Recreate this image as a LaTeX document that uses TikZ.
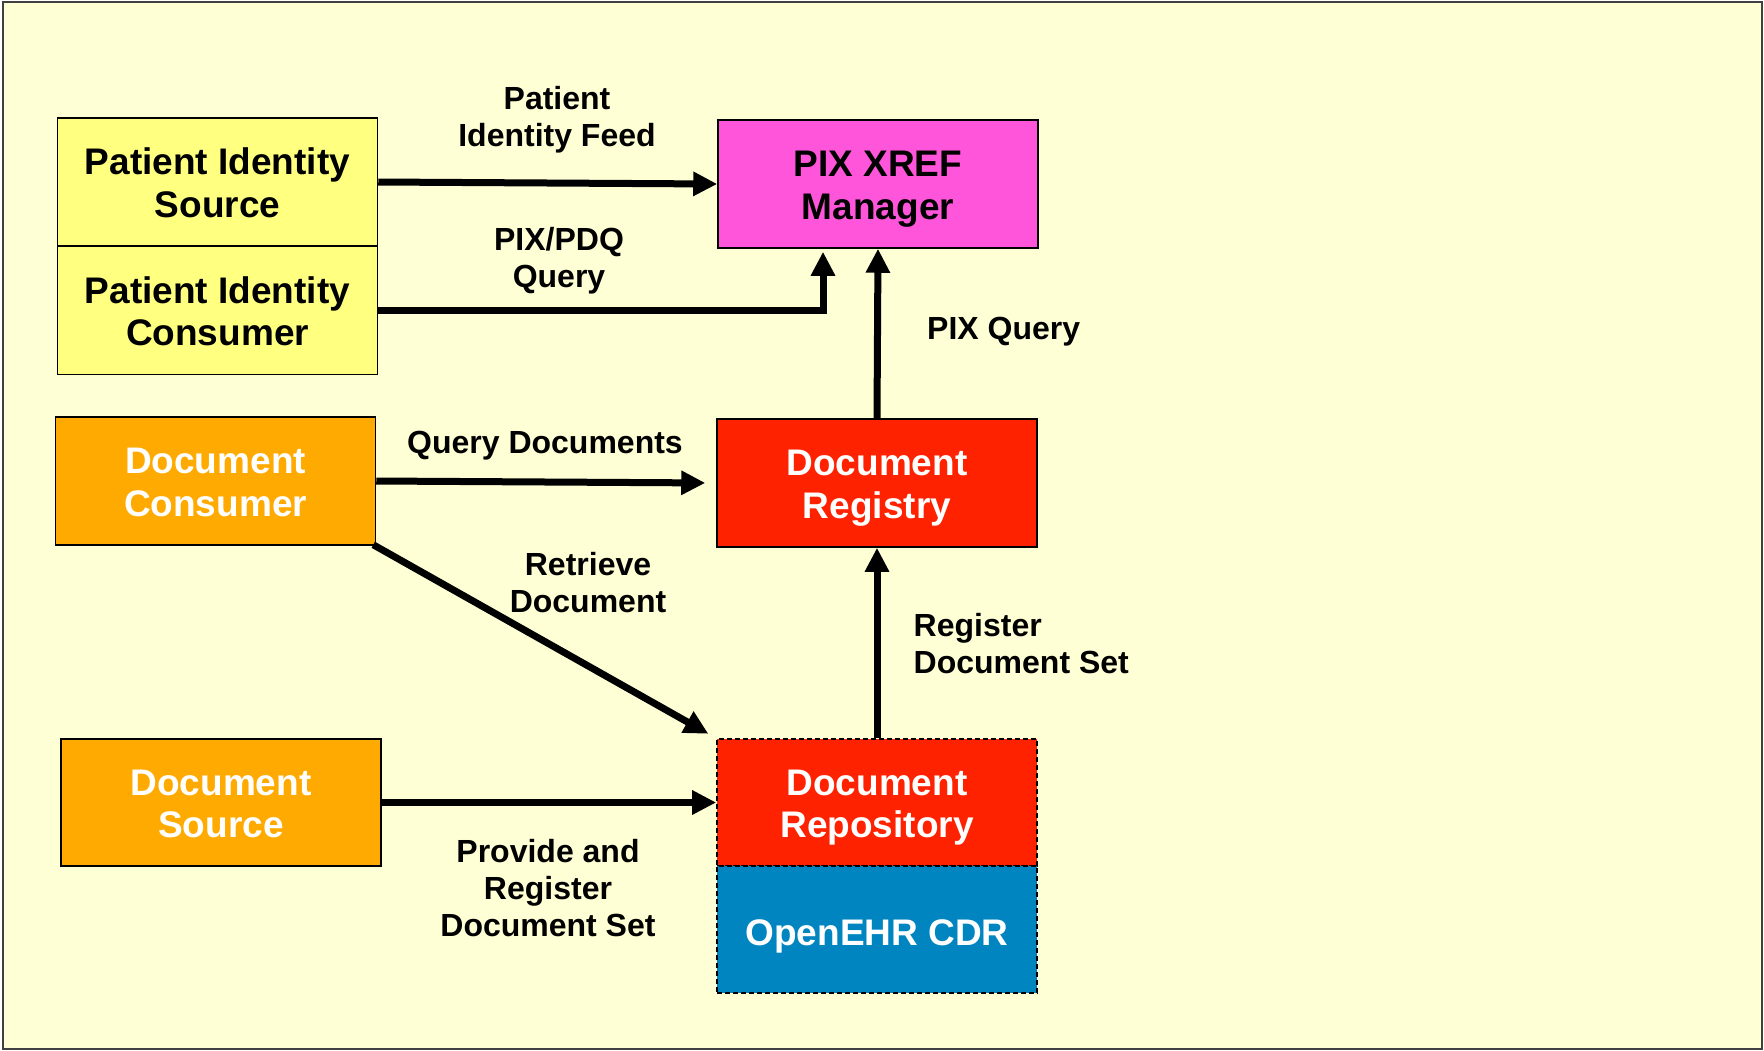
\documentclass[tikz,border=0pt]{standalone}
\usepackage{fontspec}
\setmainfont{Liberation Sans}
\usetikzlibrary{arrows.meta}

\definecolor{paper}{HTML}{FFFFD5}
\definecolor{pidyellow}{HTML}{FFFF80}
\definecolor{pixpink}{HTML}{FF55DA}
\definecolor{docorange}{HTML}{FFAA00}
\definecolor{docred}{HTML}{FF2200}
\definecolor{cdrblue}{HTML}{0085C0}

% centred lines stacked from the first baseline down
\newcommand\actorlines[1]{\vtop{\halign{\hfil##\hfil\cr#1\crcr}}}

\tikzset{
  actor/.style={draw=black, line width=1.5pt, minimum width=320pt, minimum height=128pt,
    inner sep=0pt, font=\fontsize{37}{42.5}\selectfont\bfseries,
    text height=27pt, text depth=42pt},
  darkactor/.style={actor, text=white},
  dashedactor/.style={darkactor, line width=1.6pt, dash pattern=on 5pt off 3pt},
  flowlabel/.style={inner sep=0pt, align=center, font=\fontsize{32}{37}\selectfont\bfseries},
  flow/.style={line width=7pt, line join=miter, -{Triangle[length=24pt,width=23pt]}}
}

\begin{document}
\begin{tikzpicture}[x=1pt,y=-1pt]
  \useasboundingbox (0,0) rectangle (1764,1050);
  \draw[fill=paper, draw=black!75, line width=2pt] (3,2) rectangle (1762,1049);

  % actors
  \node[actor, fill=pidyellow] (pis) at (217.5,182) {\actorlines{Patient Identity\cr Source}};
  \node[actor, fill=pidyellow] (pic) at (217.5,310.5) {\actorlines{Patient Identity\cr Consumer}};
  \node[actor, fill=pixpink] (pix) at (878,184) {\actorlines{PIX XREF\cr Manager}};
  \node[darkactor, fill=docorange] (dc) at (215.5,481) {\actorlines{Document\cr Consumer}};
  \node[darkactor, fill=docred] (reg) at (877,483) {\actorlines{Document\cr Registry}};
  \node[darkactor, fill=docorange, minimum height=127pt] (src) at (221,802.5) {\actorlines{Document\cr Source}};
  \node[dashedactor, fill=docred, minimum height=127pt] (repo) at (877,802.5) {\actorlines{Document\cr Repository}};
  \node[dashedactor, fill=cdrblue, minimum height=127pt,
        text height=36pt, text depth=3.3pt] (cdr) at (877,929.5) {OpenEHR CDR};

  % transactions
  \draw[flow] (pis.east) -- (pix.west);
  \draw[flow, shorten >=3pt] (pic.east) -| ([xshift=-55pt]pix.south);
  \draw[flow] (reg.north) -- (pix.south);
  \draw[flow, shorten >=11pt] (dc.east) -- (reg.west);
  \draw[flow, shorten >=9pt] ([shift={(-3pt,1pt)}]dc.south east) -- (repo.north west);
  \draw[flow] (repo.north) -- (reg.south);
  \draw[flow] (src.east) -- (repo.west);

  % transaction labels
  \node[flowlabel] (lfeed) at (557,120) {Patient\\Identity Feed};
  \node[flowlabel] (lpdq) at (559,261) {PIX/PDQ\\Query};
  \node[flowlabel, anchor=west] (lpix) at (927,332) {PIX Query};
  \node[flowlabel] (lqd) at (545,445.5) {Query Documents};
  \node[flowlabel] (lret) at (588,583) {Retrieve\\Document};
  \node[flowlabel, anchor=west, align=left] (lreg) at (913.5,644) {Register\\Document Set};
  \node[flowlabel] (lprov) at (548,888) {Provide and\\Register\\Document Set};
\end{tikzpicture}
\end{document}
